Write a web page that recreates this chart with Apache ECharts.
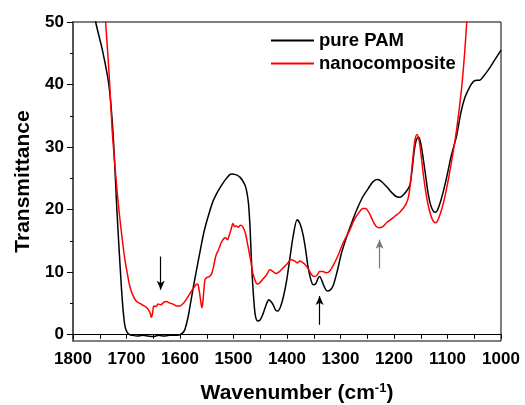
<!DOCTYPE html>
<html>
<head>
<meta charset="utf-8">
<title>FTIR</title>
<script src="https://cdn.jsdelivr.net/npm/echarts@6/dist/echarts.min.js"></script>
<style>
  html, body { margin: 0; padding: 0; background: #fff; }
  #chart { width: 525px; height: 405px; }
</style>
</head>
<body>
<div id="chart"></div>
<script>
// series names
var seriesNames = ["pure PAM", "nanocomposite"];

// [wavenumber, transmittance]
var purePAM = [
  [1762, 53], [1757.6, 50], [1745, 45.5], [1733, 40], [1725, 32], [1718, 20], [1712, 11],
  [1708, 5.7], [1704, 2], [1701, 0.8], [1696, 0.1], [1688, -0.1], [1680, -0.2], [1670, -0.1],
  [1660, -0.2], [1650, -0.3], [1640, -0.1], [1630, -0.2], [1620, -0.1], [1610, -0.1], [1600, 0],
  [1595, 0.3], [1591, 0.8], [1585, 2.8], [1579, 5.7], [1571, 9.5], [1563, 13.1], [1555, 16.5],
  [1546, 19.3], [1538, 21.4], [1530, 22.8], [1523, 23.8], [1515, 24.8], [1504, 25.7],
  [1496, 25.6], [1488, 25.2], [1480, 24.2], [1476, 23.2], [1472, 21], [1469, 17], [1466, 11],
  [1462, 5.5], [1459, 3], [1455, 2.2], [1450, 2.4], [1445, 3.3], [1438, 5], [1434, 5.6],
  [1430, 5.3], [1426, 4.8], [1421, 3.9], [1417, 3.8], [1412, 4.5], [1407, 6], [1401, 8.5],
  [1395, 12], [1388, 16], [1381, 18.4], [1375, 17.6], [1370, 16], [1365, 13.5], [1361, 11],
  [1356, 9], [1351, 8], [1346, 8.2], [1342, 9], [1339, 9.3], [1335, 8.7], [1330, 7.6],
  [1325, 7], [1320, 7.1], [1314, 7.8], [1306, 10.2], [1298, 13.1], [1288, 15.8], [1277, 18.4],
  [1268, 20.3], [1258, 22.1], [1248, 23.4], [1240, 24.4], [1232, 24.8], [1225, 24.6],
  [1214, 23.7], [1205, 22.8], [1196, 22.1], [1189, 22], [1180, 22.6], [1174, 23.3],
  [1170, 24], [1166, 26.5], [1162, 29.5], [1158, 31.2], [1154, 31.6], [1150, 30.6],
  [1146, 28.5], [1141, 25.5], [1136, 22.5], [1131, 20.6], [1126, 19.7], [1122, 19.6],
  [1117, 20.3], [1110, 22.2], [1102, 25], [1093, 28.6], [1083, 31.8], [1075, 35.5],
  [1068, 37.8], [1062, 39], [1056, 40], [1050, 40.6], [1045, 40.7], [1040, 40.7],
  [1032, 41.4], [1024, 42.3], [1012, 43.9], [1000, 45.5]
];

var nanocomposite = [
  [1742, 55], [1739, 50], [1735, 45], [1731.5, 40.2], [1727, 33], [1722, 27.4], [1717, 22.5],
  [1713, 19], [1708, 15.3], [1703, 12], [1698, 9.6], [1694, 7.8], [1688, 6.3], [1682, 5.4],
  [1675, 5], [1669, 4.7], [1663, 4.4], [1660, 4.1], [1656, 3.5], [1653.5, 2.8], [1651, 3.6],
  [1649, 4.6], [1645, 4.5], [1641, 4.9], [1636, 4.8], [1630, 5.2], [1625, 5.3], [1620, 5.1],
  [1613, 4.9], [1606, 4.6], [1600, 4.6], [1594, 5], [1588, 5.7], [1582, 6.5], [1576, 7.3],
  [1570, 8], [1567, 8.1], [1564, 7], [1561, 5.2], [1559, 4.3], [1557, 5.5], [1555, 7.5],
  [1553, 8.9], [1549, 9.2], [1545, 9.3], [1541, 9.7], [1537, 11], [1533, 12.6], [1528, 13.6],
  [1523, 14.7], [1518, 15.4], [1515, 15.5], [1511, 15.2], [1508, 15.9], [1504, 17],
  [1501, 17.8], [1498, 17.3], [1495, 17.4], [1491, 17.2], [1487, 17.5], [1483, 17.3],
  [1478, 16.3], [1473, 14.2], [1468, 12], [1464, 9.9], [1460, 8.8], [1456, 8.1], [1451, 8.3],
  [1445, 8.9], [1438, 9.6], [1432, 10.4], [1426, 10.1], [1420, 9.8], [1414, 10.1],
  [1407, 10.7], [1400, 11.3], [1393, 12], [1386, 11.8], [1380, 11.5], [1376, 11.8],
  [1372, 11.6], [1366, 11.2], [1360, 10.5], [1354, 9.6], [1349, 9.3], [1344, 9.5],
  [1339, 10.1], [1333, 10.1], [1326, 9.9], [1320, 10.2], [1314, 11], [1304, 12.8],
  [1295, 14.7], [1284, 16.5], [1274, 18.4], [1265, 19.6], [1258, 20.2], [1253, 20.2],
  [1246, 19.4], [1240, 18.3], [1234, 17.4], [1228, 17.1], [1221, 17.3], [1214, 17.9],
  [1206, 18.4], [1199, 18.9], [1190, 19.5], [1182, 20.3], [1177, 21], [1173, 22],
  [1169, 24.5], [1165, 28], [1161, 31], [1157, 32], [1153, 31], [1149, 28.5], [1145, 25.5],
  [1140, 22.5], [1135, 20.3], [1130, 18.8], [1126, 18.1], [1122, 17.9], [1117, 18.5],
  [1110, 20.3], [1103, 22.8], [1093, 27.4], [1083, 32.8], [1074, 39.1], [1068, 45],
  [1064, 50], [1060, 55]
];

// tick labels
var yMajorTicks = [0, 10, 20, 30, 40, 50];
var yMinorTicks = [5, 15, 25, 35, 45];

// arrows: [wavenumber, from, to]
var arrows = [
  [1636, 12.5, 7.2],
  [1339, 1.6, 6.2],
  [1227, 10.6, 15.2]
];

var font = "'Liberation Sans', Arial, sans-serif";

var chart = echarts.init(document.getElementById("chart"));

var option = {
  animation: false,
  grid: {
    left: 73, right: 24, top: 22, bottom: 64,
    outerBoundsMode: "none",
    show: true, borderColor: "#000", borderWidth: 1
  },
  legend: {
    orient: "vertical",
    left: 266, top: 25,
    itemWidth: 43, itemHeight: 2, itemGap: 2,
    icon: "rect",
    textStyle: { fontFamily: font, fontWeight: "bold", fontSize: 18.5, color: "#000", lineHeight: 21 },
    data: seriesNames
  },
  xAxis: {
    type: "value",
    inverse: true,
    min: 1000, max: 1800, interval: 100,
    name: "Wavenumber (cm{sup|-1})",
    nameLocation: "middle",
    nameGap: 41,
    nameTextStyle: {
      fontFamily: font, fontWeight: "bold", fontSize: 21, color: "#000",
      padding: [0, 0, 0, 20],
      rich: {
        sup: { fontFamily: font, fontWeight: "bold", fontSize: 13, color: "#000", padding: [0, 0, 10, 0] }
      }
    },
    axisLine: { lineStyle: { color: "#000", width: 1.2 } },
    axisTick: { inside: false, length: 4, lineStyle: { color: "#000" } },
    minorTick: { show: true, splitNumber: 2, length: 4, lineStyle: { color: "#000" } },
    axisLabel: {
      margin: 10, fontFamily: font, fontWeight: "bold", fontSize: 17, color: "#000",
      formatter: function (v) { return String(v); }
    },
    splitLine: { show: false }
  },
  yAxis: [
    {
      type: "value",
      min: -1, max: 50,
      name: "Transmittance",
      nameLocation: "middle",
      nameGap: 35,
      nameTextStyle: { fontFamily: font, fontWeight: "bold", fontSize: 21, color: "#000" },
      axisLine: { show: true, lineStyle: { color: "#555", width: 2 } },
      axisTick: { show: true, length: 6, customValues: yMajorTicks, lineStyle: { color: "#000" } },
      axisLabel: { margin: 9, customValues: yMajorTicks, fontFamily: font, fontWeight: "bold", fontSize: 17, color: "#000" },
      splitLine: { show: false }
    },
    {
      // only the short ticks at the fives
      type: "value",
      position: "left",
      min: -1, max: 50,
      axisLine: { show: false },
      axisTick: { show: true, length: 3, customValues: yMinorTicks, lineStyle: { color: "#000" } },
      axisLabel: { show: false },
      splitLine: { show: false }
    }
  ],
  series: [
    {
      name: seriesNames[0],
      type: "line",
      data: purePAM,
      showSymbol: false,
      smooth: 0.3,
      clip: true,
      color: "#000",
      lineStyle: { width: 1.5, color: "#000" },
      markLine: {
        silent: true,
        symbol: ["none", "arrow"],
        symbolSize: [6, 9],
        label: { show: false },
        lineStyle: { type: "solid", width: 1.2, color: "#000" },
        data: arrows.map(function (a, i) {
          var c = i === 2 ? "#777" : "#000";
          return [
            { coord: [a[0], a[1]], lineStyle: { color: c }, itemStyle: { color: c } },
            { coord: [a[0], a[2]] }
          ];
        })
      }
    },
    {
      name: seriesNames[1],
      type: "line",
      data: nanocomposite,
      showSymbol: false,
      smooth: 0.3,
      clip: true,
      color: "#f00",
      lineStyle: { width: 1.5, color: "#f00" }
    }
  ]
};

chart.setOption(option);
</script>
</body>
</html>
